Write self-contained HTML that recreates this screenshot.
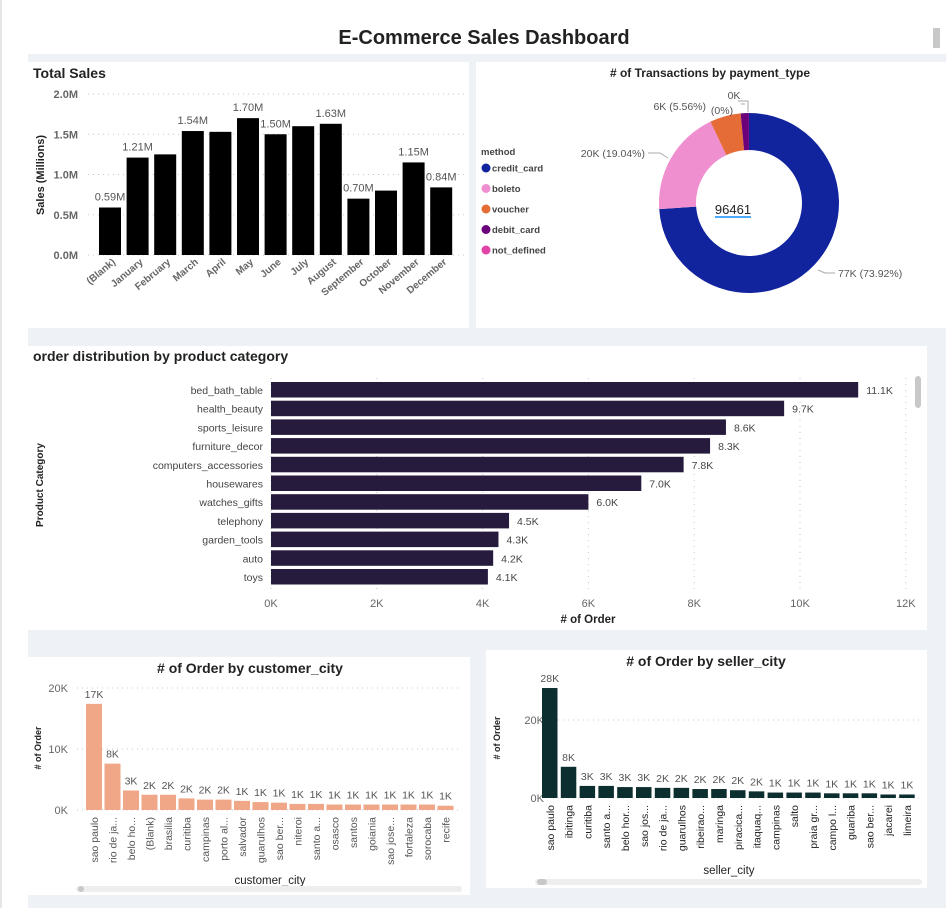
<!DOCTYPE html>
<html><head><meta charset="utf-8"><style>
body{margin:0;width:946px;height:908px;background:#fff;overflow:hidden;font-family:"Liberation Sans",sans-serif}
svg{display:block}
</style></head><body>
<svg id="s" width="946" height="908" xmlns="http://www.w3.org/2000/svg" font-family="Liberation Sans, sans-serif">
<rect x="0" y="0" width="946" height="908" fill="#fff"/>
<line x1="1" y1="0" x2="1" y2="908" stroke="#ccc"/>
<rect x="28" y="54" width="918" height="854" fill="#eef2f6"/>
<text x="484" y="44" text-anchor="middle" font-size="20" font-weight="bold" fill="#222">E-Commerce Sales Dashboard</text>
<rect x="933" y="28" width="7" height="20" fill="#c8c8c8"/>
<rect x="28" y="62" width="441" height="266" fill="#fff"/>
<rect x="476" y="62" width="470" height="266" fill="#fff"/>
<rect x="28" y="346" width="899" height="284" fill="#fff"/>
<rect x="28" y="657" width="442" height="238" fill="#fff"/>
<rect x="486" y="650" width="441" height="238" fill="#fff"/>
<g id="g"></g>
</svg>
<script>
// ---- data ----
const months=["(Blank)","January","February","March","April","May","June","July","August","September","October","November","December"];
const sales=[0.59,1.21,1.25,1.54,1.53,1.70,1.50,1.60,1.63,0.70,0.80,1.15,0.84];
const salesLabels=["0.59M","1.21M","","1.54M","","1.70M","1.50M","","1.63M","0.70M","","1.15M","0.84M"];
const salesTicks=[0,0.5,1.0,1.5,2.0];
const payMethods=["credit_card","boleto","voucher","debit_card","not_defined"];
const payShares=[73.92,19.04,5.56,1.47,0.01];
const payColors=["#12239e","#f08fcf","#e66c37","#6b007b","#e044a7"];
const payTotal="96461";
const categories=["bed_bath_table","health_beauty","sports_leisure","furniture_decor","computers_accessories","housewares","watches_gifts","telephony","garden_tools","auto","toys"];
const catOrders=[11.1,9.7,8.6,8.3,7.8,7.0,6.0,4.5,4.3,4.2,4.1];
const catTicks=[0,2,4,6,8,10,12];
const custCities=["sao paulo","rio de ja...","belo ho...","(Blank)","brasilia","curitiba","campinas","porto al...","salvador","guarulhos","sao ber...","niteroi","santo a...","osasco","santos","goiania","sao jose...","fortaleza","sorocaba","recife"];
const custOrders=[17.4,7.6,3.2,2.5,2.5,1.9,1.7,1.7,1.5,1.3,1.2,1.0,1.0,0.9,0.9,0.9,0.9,0.9,0.9,0.7];
const custLabels=["17K","8K","3K","2K","2K","2K","2K","2K","1K","1K","1K","1K","1K","1K","1K","1K","1K","1K","1K","1K"];
const custTicks=[0,10,20];
const sellCities=["sao paulo","ibitinga","curitiba","santo a...","belo hor...","sao jos...","rio de ja...","guarulhos","ribeirao...","maringa","piracica...","itaquaq...","campinas","salto","praia gr...","campo l...","guariba","sao ber...","jacarei","limeira"];
const sellOrders=[28.2,8.0,3.1,3.1,2.8,2.8,2.6,2.6,2.3,2.3,2.0,1.7,1.4,1.4,1.4,1.2,1.2,1.2,0.9,0.9];
const sellLabels=["28K","8K","3K","3K","3K","3K","2K","2K","2K","2K","2K","2K","1K","1K","1K","1K","1K","1K","1K","1K"];
const sellTicks=[0,20];

const NS="http://www.w3.org/2000/svg",G=document.getElementById('g');
function el(tag,attrs,txt){const e=document.createElementNS(NS,tag);for(const k in attrs)e.setAttribute(k,attrs[k]);if(txt!==undefined)e.textContent=txt;G.appendChild(e);return e;}

// ---- Total Sales ----
{
const y=v=>255-v*80.5, x=i=>99+i*27.6;
let t=el('text',{x:33,y:78,'font-size':14,'font-weight':'bold',fill:'#222'},'Total Sales');


t=el('text',{x:0,y:0,'font-size':11,'font-weight':'bold',fill:'#222','text-anchor':'middle',transform:'translate(44,175) rotate(-90)'},'Sales (Millions)');


salesTicks.forEach(v=>{
 let l=el('line',{x1:88,x2:465,y1:y(v),y2:y(v),stroke:'#c8c8c8','stroke-dasharray':'1 4'});
 
 
 let tt=el('text',{x:78,y:y(v)+4,'font-size':11,'font-weight':'bold',fill:'#666','text-anchor':'end'},v.toFixed(1)+'M');
 
 
});
sales.forEach((v,i)=>{
 let r=el('rect',{x:x(i),y:y(v),width:22,height:v*80.5,fill:'#000'});
 
 
 if(salesLabels[i]){let lb=el('text',{x:x(i)+11,y:y(v)-7,'font-size':11,fill:'#555','text-anchor':'middle'},salesLabels[i]);
 
 }
 let xl=el('text',{x:0,y:0,'font-size':10,'font-weight':'bold',fill:'#666','text-anchor':'end',transform:`translate(${x(i)+17},${263}) rotate(-40)`},months[i]);
 
 
});
}

// ---- Donut ----
{
const cx=749,cy=203,R=90,r=53;
let t=el('text',{x:710,y:77,'font-size':12,'font-weight':'bold',fill:'#222','text-anchor':'middle'},'# of Transactions by payment_type');


let a0=0;const tot=payShares.reduce((a,b)=>a+b,0);
payShares.forEach((p,i)=>{
 let a1=a0+p/tot*2*Math.PI;
 const P=(ang,rad)=>[cx+rad*Math.sin(ang),cy-rad*Math.cos(ang)];
 const [x1,y1]=P(a0,R),[x2,y2]=P(a1,R),[x3,y3]=P(a1,r),[x4,y4]=P(a0,r);
 const lg=(a1-a0)>Math.PI?1:0;
 let pth=el('path',{d:`M${x1},${y1}A${R},${R} 0 ${lg} 1 ${x2},${y2}L${x3},${y3}A${r},${r} 0 ${lg} 0 ${x4},${y4}Z`,fill:payColors[i]});
 
 
 a0=a1;
});
let c=el('text',{x:733,y:214,'font-size':13,fill:'#222','text-anchor':'middle'},payTotal);


let u=el('line',{x1:715,x2:751,y1:217,y2:217,stroke:'#118dff','stroke-width':1.5});


const dl=[["77K (73.92%)",838,277,"start"],["20K (19.04%)",645,157,"end"],["6K (5.56%)",706,110,"end"],["0K",734,99,"middle"],["(0%)",722,114,"middle"]];
dl.forEach(d=>{let q=el('text',{x:d[1],y:d[2],'font-size':10.5,fill:'#555','text-anchor':d[3]},d[0]);
 
 });
[[`M818,270L825,273L835,273`],[`M648,153L660,153L668,158`],[`M741,104L745,104`],[`M738,101L748,101L748,112`]].forEach(d=>{let l=el('path',{d:d[0],stroke:'#aaa',fill:'none'});
 
 });
let m=el('text',{x:481,y:155,'font-size':9.5,'font-weight':'bold',fill:'#444'},'method');


payMethods.forEach((n,i)=>{
 const yy=168+i*20.5;
 let ci=el('circle',{cx:486,cy:yy,r:4.5,fill:payColors[i]});
 
 
 let tx=el('text',{x:492,y:yy+3.5,'font-size':9.5,'font-weight':'bold',fill:'#444'},n);
 
 
});
}

// ---- Product category ----
{
const x=v=>271+v*52.9, y=i=>382+i*18.7;
let t=el('text',{x:33,y:361,'font-size':14,'font-weight':'bold',fill:'#222'},'order distribution by product category');


catTicks.forEach(v=>{
 let l=el('line',{x1:x(v),x2:x(v),y1:378,y2:592,stroke:'#c8c8c8','stroke-dasharray':'1 5'});
 
 
 let tt=el('text',{x:x(v),y:607,'font-size':11,fill:'#666','text-anchor':'middle'},v+'K');
 
 
});
categories.forEach((c,i)=>{
 let r=el('rect',{x:x(0),y:y(i),width:catOrders[i]*52.9,height:15.5,fill:'#261a3d'});
 
 
 let lb=el('text',{x:x(catOrders[i])+8,y:y(i)+12,'font-size':10.5,fill:'#444'},catOrders[i].toFixed(1)+'K');
 
 
 let cl=el('text',{x:263,y:y(i)+12,'font-size':10.5,fill:'#444','text-anchor':'end'},c);
 
 
});
let xt=el('text',{x:588,y:623,'font-size':11.5,'font-weight':'bold',fill:'#222','text-anchor':'middle'},'# of Order');


let yt=el('text',{x:0,y:0,'font-size':10,'font-weight':'bold',fill:'#222','text-anchor':'middle',transform:'translate(43,485) rotate(-90)'},'Product Category');


let sb=el('rect',{x:915,y:376,width:6,height:32,rx:3,fill:'#c8c8c8'});


}

// ---- column charts ----
function cols(o){
 const y=v=>o.y0-v*o.k, x=i=>o.x0+i*o.step;
 let t=el('text',{x:o.tx,y:o.ty,'font-size':14,'font-weight':'bold',fill:'#222','text-anchor':'middle'},o.title);
 
 
 o.ticks.forEach(v=>{
  let l=el('line',{x1:o.gx1,x2:o.gx2,y1:y(v),y2:y(v),stroke:'#c8c8c8','stroke-dasharray':'1 4'});
  
  
  let tt=el('text',{x:o.gx1-9,y:y(v)+4,'font-size':11,fill:'#666','text-anchor':'end'},v+'K');
  
  
 });
 o.vals.forEach((v,i)=>{
  let r=el('rect',{x:x(i),y:y(v),width:o.w,height:v*o.k,fill:o.color});
  
  
  let lb=el('text',{x:x(i)+o.w/2,y:y(v)-6,'font-size':10.5,fill:'#555','text-anchor':'middle'},o.labels[i]);
  
  
  let cl=el('text',{x:0,y:0,'font-size':10.5,fill:o.lc,'text-anchor':'end',transform:`translate(${x(i)+o.w/2+4},${o.y0+7}) rotate(-90)`},o.cats[i]);
  
  
 });
 let xt=el('text',{x:o.xtx,y:o.xty,'font-size':11.5,fill:'#222','text-anchor':'middle'},o.xtitle);
 
 
 let yt=el('text',{x:0,y:0,'font-size':9,'font-weight':'bold',fill:'#222','text-anchor':'middle',transform:`translate(${o.ytx},${o.yty}) rotate(-90)`},'# of Order');
 
 
 let tr=el('rect',{x:o.sx,y:o.sy,width:o.sw,height:6,rx:3,fill:'#eee'});
 
 
 let th=el('rect',{x:o.sx+2,y:o.sy,width:o.thw,height:6,rx:3,fill:'#c8c8c8'});
 
 
}
cols({key:'customer-city',title:'# of Order by customer_city',tx:250,ty:673,vals:custOrders,labels:custLabels,cats:custCities,ticks:custTicks,
 y0:810,k:6.1,x0:86,step:18.5,w:16,color:'#f0a787',lc:'#555',gx1:77,gx2:462,xtitle:'customer_city',xtx:270,xty:884,ytx:41,yty:748,sx:76,sy:886,sw:386,thw:6});
cols({key:'seller-city',title:'# of Order by seller_city',tx:706,ty:666,vals:sellOrders,labels:sellLabels,cats:sellCities,ticks:sellTicks,
 y0:798,k:3.9,x0:542,step:18.8,w:15.5,color:'#0d2e2e',lc:'#222',gx1:553,gx2:922,xtitle:'seller_city',xtx:729,xty:874,ytx:500,yty:738,sx:535,sy:879,sw:387,thw:10});
</script>
</body></html>
